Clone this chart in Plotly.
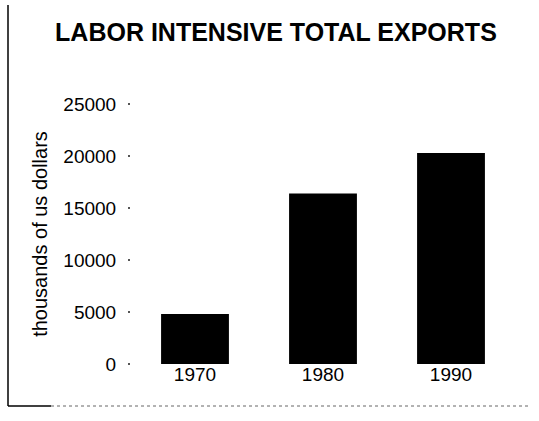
import plotly.graph_objects as go

# Labor-intensive total exports, thousands of US dollars
years = ["1970", "1980", "1990"]
exports = [4800, 16400, 20300]
y_ticks = [0, 5000, 10000, 15000, 20000, 25000]

fig = go.Figure(
    go.Bar(
        x=years,
        y=exports,
        marker=dict(color="black", line=dict(width=0)),
        width=0.53,
    )
)

fig.update_layout(
    width=539,
    height=421,
    margin=dict(l=131, r=24, t=104, b=57),
    paper_bgcolor="white",
    plot_bgcolor="white",
    showlegend=False,
    font=dict(family="Liberation Sans, Arial, sans-serif", color="black", size=19),
    title=dict(
        text="<b>LABOR INTENSIVE TOTAL EXPORTS</b>",
        x=0.512,
        xanchor="center",
        y=1 - 32 / 421,
        yanchor="middle",
        font=dict(size=25, color="black"),
    ),
    xaxis=dict(
        type="category",
        range=[-0.5, 2.5],
        showgrid=False,
        showline=False,
        zeroline=False,
        ticks="",
        tickfont=dict(size=19),
        ticklabelstandoff=-3,
    ),
    yaxis=dict(
        range=[0, 25000],
        tickvals=y_ticks,
        ticktext=[str(v) for v in y_ticks],
        showgrid=False,
        showline=False,
        zeroline=False,
        ticks="outside",
        ticklen=2,
        tickwidth=1.5,
        tickcolor="#555",
        tickfont=dict(size=19),
        ticklabelstandoff=8,
        title=dict(text="thousands of us dollars", font=dict(size=20), standoff=10),
    ),
)

# Page frame: solid left edge, broken bottom edge
fig.add_shape(type="line", xref="paper", yref="paper",
              x0=-123 / 384, x1=-123 / 384, y0=(364 - 5) / 260, y1=(364 - 406) / 260,
              line=dict(color="black", width=1.5))
fig.add_shape(type="line", xref="paper", yref="paper",
              x0=-123 / 384, x1=-80 / 384, y0=(364 - 406) / 260, y1=(364 - 406) / 260,
              line=dict(color="black", width=1.5))
fig.add_shape(type="line", xref="paper", yref="paper",
              x0=-80 / 384, x1=400 / 384, y0=(364 - 406) / 260, y1=(364 - 406) / 260,
              line=dict(color="#666", width=1, dash="dot"))

fig.write_html("out.html")
